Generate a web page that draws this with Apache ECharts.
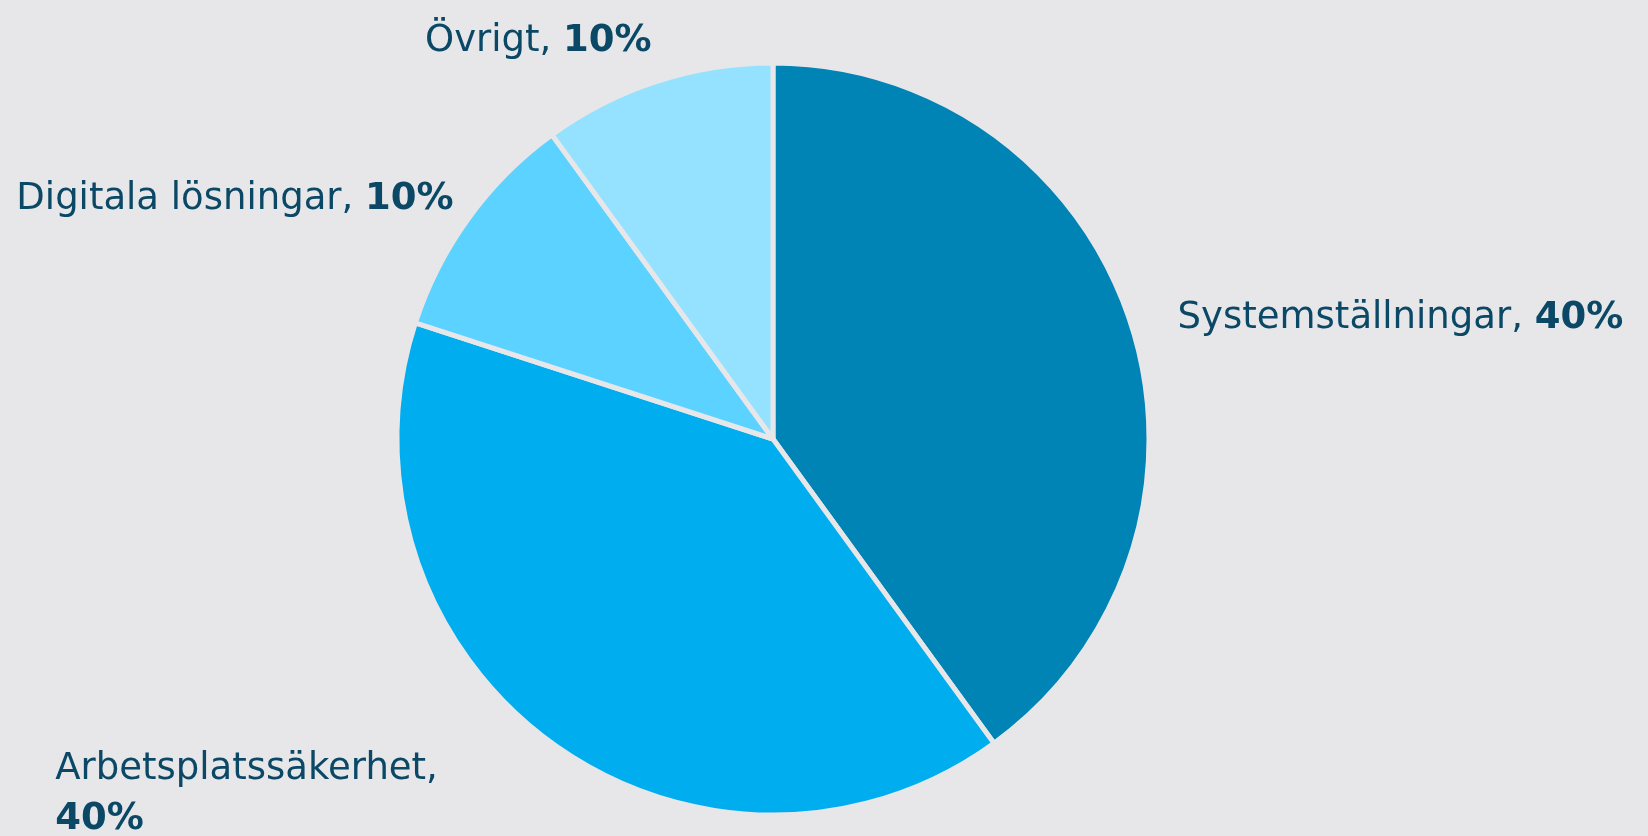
<!DOCTYPE html>
<html>
<head>
<meta charset="utf-8">
<script src="https://cdn.jsdelivr.net/npm/echarts@6/dist/echarts.min.js"></script>
<style>
html,body{margin:0;padding:0;background:#e7e7ea;}
#c{width:1648px;height:836px;}
</style>
</head>
<body>
<div id="c"></div>
<script>
const categories = ['Systemställningar', 'Arbetsplatssäkerhet', 'Digitala lösningar', 'Övrigt'];
const values = [40, 40, 10, 10];
const colors = ['#0083b5', '#00aeef', '#5bd2ff', '#94e2ff'];
const wrapLabel = [false, true, false, false];
// label offsets (styling) relative to ECharts' default outside label position
const labelOffsets = [[23, 2], [-480, 35], [6, -7], [6, -21]];
const labelAlign = [null, 'left', null, null];

const chart = echarts.init(document.getElementById('c'));
const data = categories.map((name, i) => ({
  name: name,
  value: values[i],
  itemStyle: { color: colors[i] },
  label: {
    formatter: wrapLabel[i] ? '{n|{b},}\n{p|{c}%}' : '{n|{b}, }{p|{c}%}'
  }
}));

const FONT = 'DejaVu Sans';
chart.setOption({
  backgroundColor: '#e7e7ea',
  animation: false,
  series: [{
    type: 'pie',
    center: [773, 439],
    radius: 376,
    startAngle: 90,
    clockwise: true,
    avoidLabelOverlap: false,
    itemStyle: { borderColor: '#e7e7ea', borderWidth: 5 },
    label: {
      show: true,
      position: 'outside',
      color: '#0b4866',
      rich: {
        n: { fontFamily: FONT, fontSize: 37, color: '#0b4866', fontWeight: 'normal', lineHeight: 50 },
        p: { fontFamily: FONT, fontSize: 37, color: '#0b4866', fontWeight: 'bold', lineHeight: 50 }
      }
    },
    labelLine: { show: false, length: 20, length2: 0 },
    labelLayout: function (params) {
      const i = params.dataIndex;
      const o = { dx: labelOffsets[i][0], dy: labelOffsets[i][1] };
      if (labelAlign[i]) o.align = labelAlign[i];
      return o;
    },
    data: data
  }]
});
</script>
</body>
</html>
